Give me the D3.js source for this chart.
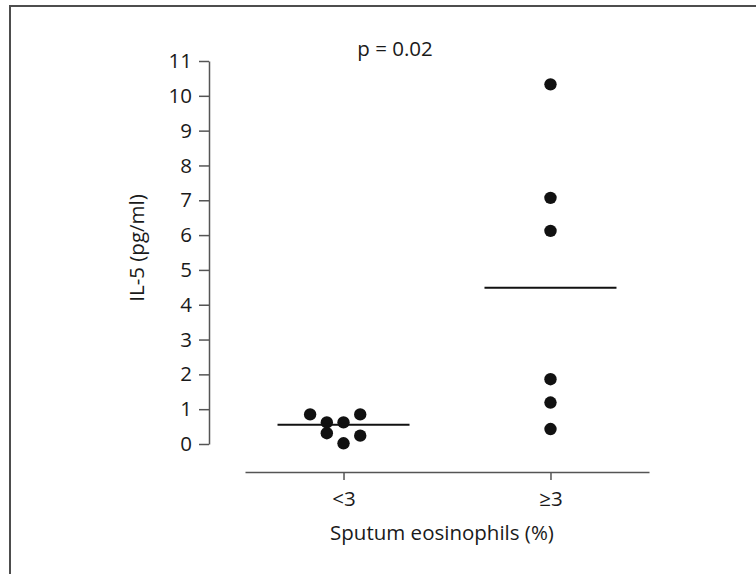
<!DOCTYPE html>
<html>
<head>
<meta charset="utf-8">
<script src="https://cdn.jsdelivr.net/npm/d3@7"></script>
<style>
  body { margin: 0; background: #fff; }
  text { font-family: "Open Sans", "Noto Sans", sans-serif; fill: #1a1a1a; }
</style>
</head>
<body>
<div class="chart"></div>
<script>
// groups on the x axis
const groups = ['<3', '≥3'];

// IL-5 values (pg/ml), with their jitter column
const lowValues = [0.85, 0.62, 0.31, 0.62, 0.02, 0.85, 0.24];
const lowColumns = [-2, -1, -1, 0, 0, 1, 1];
const highValues = [10.33, 7.07, 6.12, 1.86, 1.19, 0.43];
const highColumns = [0, 0, 0, 0, 0, 0];

// group means drawn as horizontal bars
const means = [0.55, 4.49];

const yTicks = d3.range(0, 12);
const pLabel = 'p = 0.02';

const width = 756;
const height = 574;
const fontSize = '20.5px';

const svg = d3.select('.chart')
  .append('svg')
    .attr('width', width)
    .attr('height', height);

// outer frame, runs off the right and bottom edges
svg.append('rect')
  .attr('x', 10)
  .attr('y', 6)
  .attr('width', width + 20)
  .attr('height', height + 20)
  .attr('fill', 'none')
  .attr('stroke', '#4d4d4d')
  .attr('stroke-width', 2);

const x = d3.scalePoint()
  .domain(groups)
  .range([245, 649])
  .padding(0.476);

const y = d3.scaleLinear()
  .domain([0, 11])
  .range([444, 61]);

const yAxis = svg.append('g')
  .attr('transform', 'translate(209,0)')
  .call(d3.axisLeft(y).tickValues(yTicks).tickSize(10).tickPadding(7).tickSizeOuter(0));

yAxis.select('.domain').attr('stroke', '#555').attr('stroke-width', 1.5);
yAxis.selectAll('.tick line').attr('stroke', '#555').attr('stroke-width', 1.5);
yAxis.selectAll('.tick text')
  .attr('font-family', null)
  .style('font-size', fontSize)
  .style('fill', '#1a1a1a');

const xAxis = svg.append('g')
  .attr('transform', 'translate(0,472)')
  .call(d3.axisBottom(x).tickSize(8).tickPadding(11).tickSizeOuter(0));

xAxis.select('.domain').attr('stroke', '#555').attr('stroke-width', 1.5);
xAxis.selectAll('.tick line').attr('stroke', '#555').attr('stroke-width', 1.5);
xAxis.selectAll('.tick text')
  .attr('font-family', null)
  .style('font-size', fontSize)
  .style('fill', '#1a1a1a');

// axis titles
svg.append('text')
  .attr('x', 442)
  .attr('y', 540)
  .attr('text-anchor', 'middle')
  .style('font-size', fontSize)
  .text('Sputum eosinophils (%)');

svg.append('text')
  .attr('transform', 'translate(144,248) rotate(-90)')
  .attr('text-anchor', 'middle')
  .style('font-size', fontSize)
  .text('IL-5 (pg/ml)');

svg.append('text')
  .attr('x', 395)
  .attr('y', 56)
  .attr('text-anchor', 'middle')
  .style('font-size', fontSize)
  .text(pLabel);

// points
const colStep = 16.7;
const points = [
  ...lowValues.map((v, i) => ({ group: groups[0], value: v, col: lowColumns[i] })),
  ...highValues.map((v, i) => ({ group: groups[1], value: v, col: highColumns[i] }))
];

svg.selectAll('circle.pt')
  .data(points)
  .enter()
  .append('circle')
    .attr('class', 'pt')
    .attr('cx', d => x(d.group) + d.col * colStep)
    .attr('cy', d => y(d.value))
    .attr('r', 6.2)
    .attr('fill', '#111');

// mean lines
svg.selectAll('line.mean')
  .data(groups)
  .enter()
  .append('line')
    .attr('class', 'mean')
    .attr('x1', d => x(d) - 66)
    .attr('x2', d => x(d) + 66)
    .attr('y1', (d, i) => y(means[i]))
    .attr('y2', (d, i) => y(means[i]))
    .attr('stroke', '#111')
    .attr('stroke-width', 2);
</script>
</body>
</html>
